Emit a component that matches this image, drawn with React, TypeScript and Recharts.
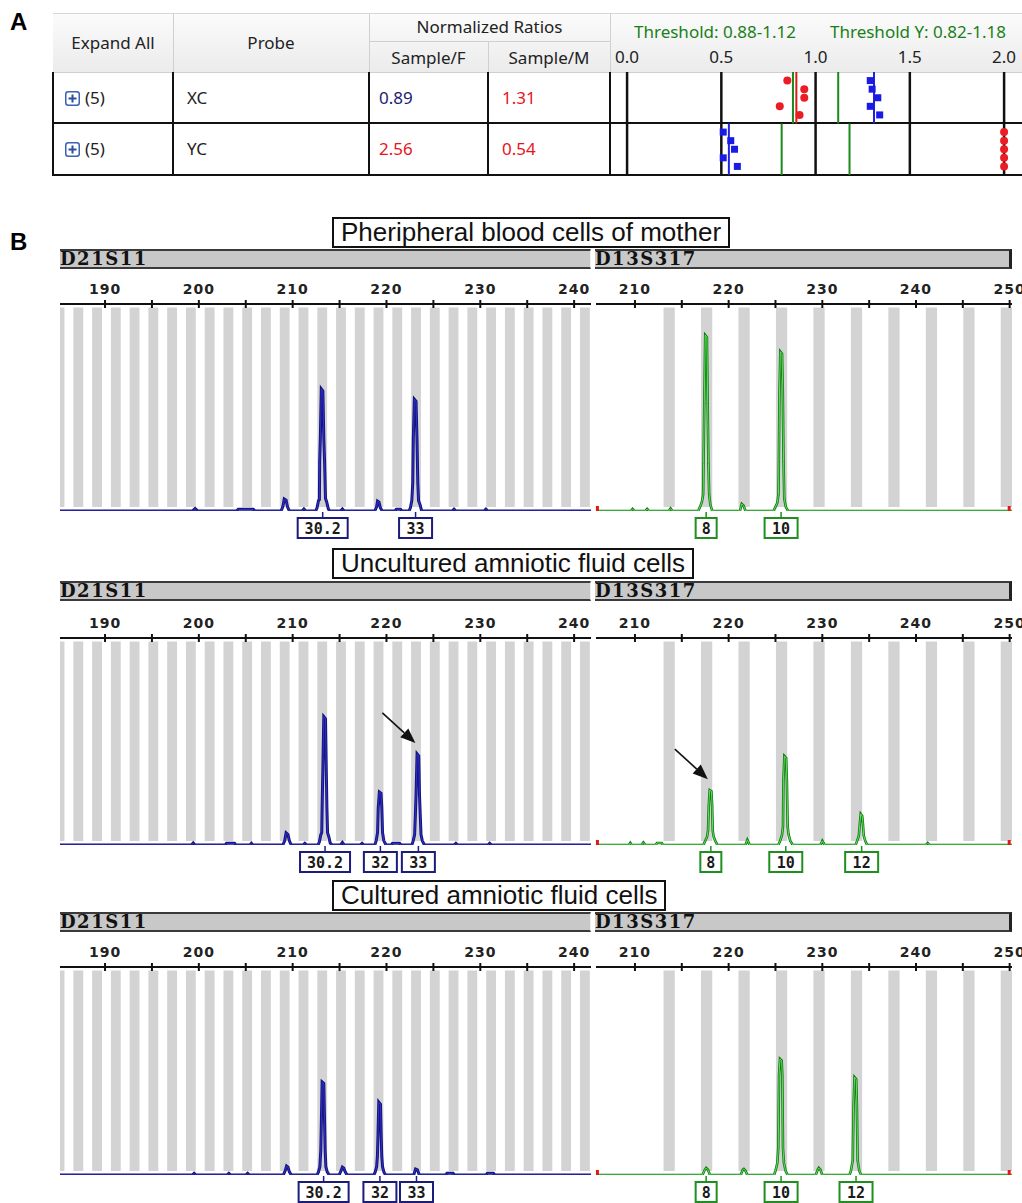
import React from 'react';
import {
  LineChart, Line, XAxis, YAxis, ReferenceArea, ReferenceLine, ReferenceDot,
  ScatterChart, Scatter,
} from 'recharts';

// ---------- panel A: normalized ratios table ----------
const probes = ['XC', 'YC'];
const replicateCounts = [5, 5];
const sampleF = [0.89, 2.56];
const sampleM = [1.31, 0.54];
const thresholdX = [0.88, 1.12];
const thresholdY = [0.82, 1.18];
const ratioTicks = [0, 0.5, 1, 1.5, 2];
// replicate ratios (Sample/F = red dots, Sample/M = blue squares)
const xcF = [0.85, 0.94, 0.94, 0.81, 0.915];
const xcM = [1.29, 1.3, 1.33, 1.29, 1.34];
const ycF = [2.0, 2.0, 2.0, 2.0, 2.0]; // off scale, pinned at 2.0
const ycM = [0.51, 0.55, 0.57, 0.51, 0.585];

// ---------- panel B: STR electropherograms ----------
const rowTitles = [
  'Pheripheral blood cells of mother',
  'Uncultured amniotic fluid cells',
  'Cultured amniotic fluid cells',
];
const d21Ticks = [190, 195, 200, 205, 210, 215, 220, 225, 230, 235, 240];
const d13Ticks = [210, 215, 220, 225, 230, 235, 240, 245, 250];
const d21Bins = [185.15, 187.15, 189.15, 191.15, 193.15, 195.15, 197.15, 199.15, 201.15, 203.15,
  205.15, 207.15, 209.15, 211.15, 213.15, 215.15, 217.15, 219.15, 221.15, 223.15, 225.15,
  227.15, 229.15, 231.15, 233.15, 235.15, 237.15, 239.15, 241.15];
const d13Bins = [213.65, 217.65, 221.65, 225.65, 229.65, 233.65, 237.65, 241.65, 245.65, 249.65];

// traces: [size (bp), height (% of panel)]
const d21Mother: [number, number][] = [
  [185.2, 0], [199.3, 0], [199.6, 1.2], [199.9, 0],
  [204.0, 0], [204.2, 0.8], [205.8, 0.8], [206.0, 0],
  [208.75, 0], [208.95, 2], [209.1, 5.8], [209.3, 5.2], [209.45, 2], [209.65, 0],
  [211.0, 0], [211.2, 1], [211.4, 0],
  [212.45, 0], [212.6, 1.5], [212.75, 5], [212.85, 5.5], [212.88, 24], [212.95, 35], [213.05, 59],
  [213.22, 58], [213.32, 35], [213.4, 24], [213.5, 6], [213.62, 4.5], [213.8, 1], [213.95, 0],
  [215.1, 0], [215.3, 1], [215.5, 0],
  [218.75, 0], [218.95, 2], [219.05, 4.8], [219.2, 4.3], [219.35, 1.5], [219.55, 0],
  [220.9, 0], [221.05, 0.8], [221.5, 0.8], [221.65, 0],
  [222.4, 0], [222.55, 1.5], [222.7, 5], [222.8, 13.5], [222.86, 35], [222.97, 54], [223.15, 53],
  [223.25, 35], [223.34, 13.5], [223.42, 5], [223.58, 3], [223.75, 0],
  [227.0, 0], [227.2, 0.9], [227.4, 0],
  [230.4, 0], [230.6, 0.9], [230.8, 0],
  [241.8, 0],
];
const d13Mother: [number, number][] = [
  [205.84, 0], [209.55, 0], [209.75, 1], [209.95, 0], [211.1, 0], [211.3, 1], [211.5, 0],
  [213.6, 0], [213.8, 1.2], [214.0, 0],
  [216.75, 0], [216.95, 2], [217.15, 4.5], [217.28, 8], [217.32, 23], [217.4, 52], [217.5, 85],
  [217.68, 84], [217.76, 52], [217.84, 23], [217.92, 8], [218.05, 3], [218.25, 0],
  [221.2, 0], [221.4, 3.4], [221.6, 2.5], [221.8, 0],
  [224.8, 0], [225.0, 2], [225.2, 4], [225.32, 8], [225.36, 24], [225.43, 58], [225.52, 77],
  [225.7, 76], [225.78, 58], [225.86, 24], [225.94, 6], [226.1, 2], [226.35, 0],
  [250.25, 0],
];
const d21Uncultured: [number, number][] = [
  [185.2, 0], [199.2, 0], [199.4, 1], [199.6, 0],
  [202.8, 0], [202.95, 0.8], [203.8, 0.8], [203.95, 0], [205.45, 0], [205.6, 0.8], [205.75, 0],
  [208.95, 0], [209.15, 2], [209.3, 5.8], [209.5, 5], [209.65, 2], [209.85, 0],
  [211.1, 0], [211.3, 0.8], [211.5, 0],
  [212.7, 0], [212.85, 1.5], [213.0, 5], [213.1, 6], [213.14, 18], [213.22, 37], [213.32, 62],
  [213.5, 61], [213.58, 37], [213.65, 18], [213.72, 6], [213.85, 4], [214.0, 1], [214.2, 0],
  [215.1, 0], [215.3, 1.2], [215.5, 0], [217.2, 0], [217.4, 0.8], [217.6, 0],
  [218.75, 0], [218.9, 2], [219.05, 6], [219.12, 18], [219.24, 25.6], [219.42, 25], [219.5, 18],
  [219.58, 6], [219.72, 2], [219.95, 0],
  [220.5, 0], [220.65, 0.8], [221.4, 0.8], [221.55, 0],
  [222.7, 0], [222.85, 2], [223.0, 5], [223.08, 14.5], [223.15, 24], [223.26, 44], [223.44, 43],
  [223.52, 24], [223.6, 14.5], [223.68, 5], [223.82, 2], [224.05, 0],
  [227.2, 0], [227.4, 0.8], [227.6, 0], [230.8, 0], [231.0, 0.8], [231.2, 0],
  [241.8, 0],
];
const d13Uncultured: [number, number][] = [
  [205.84, 0], [209.35, 0], [209.5, 1], [209.65, 0], [210.7, 0], [210.9, 1.2], [211.1, 0],
  [212.2, 0], [212.35, 1], [212.85, 1], [213.0, 0],
  [217.3, 0], [217.5, 2], [217.7, 4], [217.8, 7], [217.88, 19], [217.98, 26.5], [218.16, 26],
  [218.24, 19], [218.3, 7], [218.4, 4], [218.58, 2], [218.8, 0],
  [221.8, 0], [222.0, 2.5], [222.25, 0],
  [225.3, 0], [225.5, 2], [225.7, 5], [225.8, 9], [225.85, 31], [225.95, 43], [226.14, 42],
  [226.22, 31], [226.3, 9], [226.4, 5], [226.58, 2], [226.85, 0],
  [229.8, 0], [230.0, 2], [230.25, 0],
  [233.55, 0], [233.72, 2], [233.9, 4.5], [234.0, 10], [234.1, 15], [234.26, 14], [234.34, 10],
  [234.42, 4.5], [234.58, 2], [234.8, 0],
  [241.05, 0], [241.25, 1], [241.45, 0],
  [250.25, 0],
];
const d21Cultured: [number, number][] = [
  [185.2, 0], [199.3, 0], [199.5, 0.8], [199.7, 0], [203.0, 0], [203.2, 0.8], [203.4, 0],
  [205.0, 0], [205.2, 0.8], [205.4, 0],
  [209.0, 0], [209.2, 2], [209.35, 4.3], [209.5, 3.8], [209.65, 1.5], [209.85, 0],
  [212.6, 0], [212.75, 1.5], [212.9, 4], [213.0, 12], [213.06, 25.6], [213.14, 44.7], [213.32, 44],
  [213.4, 25.6], [213.46, 12], [213.54, 4], [213.68, 1.5], [213.9, 0],
  [214.95, 0], [215.15, 2], [215.3, 3.8], [215.45, 3.3], [215.6, 1.5], [215.8, 0],
  [218.65, 0], [218.8, 1.5], [218.95, 4], [219.03, 8.8], [219.1, 20], [219.18, 35], [219.36, 34],
  [219.43, 20], [219.5, 8.8], [219.58, 4], [219.72, 1.5], [219.9, 0],
  [222.9, 0], [223.1, 2.9], [223.3, 2.5], [223.5, 0],
  [226.3, 0], [226.45, 0.8], [227.1, 0.8], [227.25, 0],
  [230.6, 0], [230.75, 0.8], [231.4, 0.8], [231.55, 0],
  [241.8, 0],
];
const d13Cultured: [number, number][] = [
  [205.84, 0],
  [217.2, 0], [217.45, 2.5], [217.6, 3.4], [217.8, 2.5], [218.0, 0],
  [221.3, 0], [221.5, 2.5], [221.62, 2.9], [221.8, 2], [222.0, 0],
  [224.85, 0], [225.0, 2], [225.2, 5.8], [225.3, 13], [225.38, 48], [225.48, 55.8], [225.66, 55],
  [225.73, 48], [225.8, 13], [225.9, 5.8], [226.08, 2], [226.3, 0],
  [229.3, 0], [229.5, 2.5], [229.62, 3.4], [229.8, 2.5], [230.0, 0],
  [232.9, 0], [233.05, 2], [233.25, 7], [233.34, 33.6], [233.44, 47], [233.62, 46], [233.69, 33.6],
  [233.77, 7], [233.95, 2], [234.15, 0],
  [250.25, 0],
];

// allele calls (label, size)
const d21CallsMother = [{ label: '30.2', bp: 213.2 }, { label: '33', bp: 223.1 }];
const d13CallsMother = [{ label: '8', bp: 217.6 }, { label: '10', bp: 225.6 }];
const d21CallsUncultured = [{ label: '30.2', bp: 213.45 }, { label: '32', bp: 219.35 }, { label: '33', bp: 223.4 }];
const d13CallsUncultured = [{ label: '8', bp: 218.1 }, { label: '10', bp: 226.1 }, { label: '12', bp: 234.2 }];
const d21CallsCultured = [{ label: '30.2', bp: 213.3 }, { label: '32', bp: 219.3 }, { label: '33', bp: 223.2 }];
const d13CallsCultured = [{ label: '8', bp: 217.6 }, { label: '10', bp: 225.6 }, { label: '12', bp: 233.6 }];

// arrowed peaks (row 2)
const d21ArrowPeak = { bp: 223.4, h: 44 };
const d13ArrowPeak = { bp: 218.1, h: 26.5 };

const FONT_UI = '"Noto Sans", "Open Sans", sans-serif';
const FONT_ARIAL = '"Liberation Sans", Arial, sans-serif';

function BpTick(props: any) {
  const { x, y, payload } = props;
  const v = payload.value as number;
  return (
    <g>
      <line x1={x} x2={x} y1={y - 4} y2={y + 4} stroke="#111" strokeWidth={2} />
      {v % 10 === 0 && (
        <text x={x} y={y - 10} textAnchor="middle" fontFamily="DejaVu Sans" fontWeight="bold"
          fontSize={14} letterSpacing={1} fill="#222">{v}</text>
      )}
    </g>
  );
}

const boxWidths: Record<number, number> = { 1: 21, 2: 33, 3: 42, 4: 50 };

const alleleBox = (label: string, color: string) => (p: any) => {
  const { cx, cy } = p;
  const w = boxWidths[label.length] || 50;
  return (
    <g>
      <line x1={cx} x2={cx} y1={cy + 1} y2={cy + 7} stroke={color} strokeWidth={1.5} />
      <rect x={cx - w / 2} y={cy + 7} width={w} height={20} fill="#fff" stroke={color} strokeWidth={2} />
      <text x={cx} y={cy + 23} textAnchor="middle" fontFamily="DejaVu Sans Mono" fontWeight="bold"
        fontSize={15} fill="#1a1a1a">{label}</text>
    </g>
  );
};

const arrowShape = (p: any) => {
  const { cx, cy } = p;
  const tx = cx - 3, ty = cy - 11;
  const sx = cx - 36, sy = cy - 41;
  const ang = Math.atan2(ty - sy, tx - sx);
  const len = 15, half = 6;
  const bx = tx - len * Math.cos(ang), by = ty - len * Math.sin(ang);
  const px = -Math.sin(ang) * half, py = Math.cos(ang) * half;
  return (
    <g>
      <line x1={sx} y1={sy} x2={bx} y2={by} stroke="#111" strokeWidth={1.6} />
      <polygon points={`${tx},${ty} ${bx + px},${by + py} ${bx - px},${by - py}`} fill="#111" />
    </g>
  );
};

const endMark = (p: any) => <rect x={p.cx - 1.5} y={p.cy - 5} width={3} height={5} fill="#e01818" />;

interface PanelProps {
  left: number; width: number; axisY: number; baseY: number;
  domain: [number, number]; ticks: number[]; bins: number[]; binWidth: number;
  trace: [number, number][]; calls: { label: string; bp: number }[];
  arrow?: { bp: number; h: number };
  outer: string; inner: string; outerWidth: number; boxColor: string; redEnds?: boolean;
}

function StrPanel(props: PanelProps) {
  const { left, width, axisY, baseY, domain, ticks, bins, binWidth, trace, calls, arrow, outer, inner, outerWidth, boxColor, redEnds } = props;
  const pad = 18;
  const axisH = 34;
  const plotH = baseY - axisY;
  const data = trace.map(([bp, h]) => ({ bp, h }));
  return (
    <div style={{ position: 'absolute', left: left - pad, top: axisY - axisH }}>
      <LineChart width={width + 2 * pad} height={axisH + plotH + 36} data={data}
        margin={{ top: 0, right: pad, bottom: 36, left: pad }}>
        <XAxis dataKey="bp" type="number" orientation="top" domain={domain} ticks={ticks} interval={0}
          allowDataOverflow height={axisH} tickSize={0} tickMargin={0} tick={<BpTick />}
          axisLine={{ stroke: '#111', strokeWidth: 2 }} tickLine={false} />
        <YAxis type="number" domain={[0, 100]} hide allowDataOverflow />
        {bins.map((c) => (
          <ReferenceArea key={c} x1={Math.max(c - binWidth / 2, domain[0])} x2={Math.min(c + binWidth / 2, domain[1])}
            y1={1.9} y2={98.3} fill="#d3d3d3" fillOpacity={1} stroke="none" />
        ))}
        <Line dataKey="h" type="linear" stroke={outer} strokeWidth={outerWidth} dot={false} isAnimationActive={false} />
        <Line dataKey={(d: any) => d.h} type="linear" stroke={inner} strokeWidth={1} dot={false} isAnimationActive={false} />
        {redEnds && <ReferenceDot x={domain[0] + 0.15} y={0} shape={endMark} ifOverflow="visible" />}
        {redEnds && <ReferenceDot x={domain[1] - 0.3} y={0} shape={endMark} ifOverflow="visible" />}
        {calls.map((c) => (
          <ReferenceDot key={c.label} x={c.bp} y={0} shape={alleleBox(c.label, boxColor)} ifOverflow="visible" />
        ))}
        {arrow && <ReferenceDot x={arrow.bp} y={arrow.h} shape={arrowShape} ifOverflow="visible" />}
      </LineChart>
    </div>
  );
}

const rowLayout = [
  { titleTop: 217, barTop: 249, axisY: 304, baseY: 511 },
  { titleTop: 548, barTop: 581, axisY: 638, baseY: 845 },
  { titleTop: 880, barTop: 912, axisY: 967, baseY: 1175 },
];
const rowTraces = [
  [d21Mother, d13Mother],
  [d21Uncultured, d13Uncultured],
  [d21Cultured, d13Cultured],
];
const rowCalls = [
  [d21CallsMother, d13CallsMother],
  [d21CallsUncultured, d13CallsUncultured],
  [d21CallsCultured, d13CallsCultured],
];

const D21 = { left: 60, width: 531, domain: [185.2, 241.8] as [number, number] };
const D13 = { left: 596, width: 416, domain: [205.84, 250.25] as [number, number] };

function MarkerBar({ left, width, top, name, rightEdge }: { left: number; width: number; top: number; name: string; rightEdge?: boolean }) {
  return (
    <div style={{
      position: 'absolute', left, top, width, height: 16, background: '#c8c8c8',
      borderTop: '2px solid #3a3a3a', borderBottom: '2px solid #3a3a3a',
      borderRight: rightEdge ? '3px solid #222' : '1px solid #eee', boxSizing: 'content-box',
    }}>
      <span style={{
        position: 'absolute', left: 0, top: -2, fontFamily: '"DejaVu Serif", serif', fontWeight: 'bold',
        fontSize: 18, letterSpacing: 1.5, color: '#111', lineHeight: '20px',
      }}>{name}</span>
    </div>
  );
}

function PlusIcon() {
  return (
    <svg width={15} height={15} style={{ display: 'block' }}>
      <rect x={0.75} y={0.75} width={13.5} height={13.5} rx={2.5} fill="#fff" stroke="#3a62b0" strokeWidth={1.5} />
      <path d="M7.5 3.5v8M3.5 7.5h8" stroke="#2a4f9c" strokeWidth={2} />
    </svg>
  );
}

const colX = [53, 173, 369, 488, 610];
const headTop = 13, headMid = 41, headBottom = 72;
const rowBottoms = [123, 175];

function RatioPlot() {
  const pts = (vals: number[], rowTop: number) => vals.map((v, i) => ({ x: v, y: rowTop - (i + 1) / 6 }));
  const seg = (x: number, rowTop: number) => [{ x, y: rowTop }, { x, y: rowTop - 1 }] as any;
  const redDot = (p: any) => <circle cx={p.cx} cy={p.cy} r={4} fill="#ec1c24" />;
  const blueSq = (p: any) => <rect x={p.cx - 3.5} y={p.cy - 3.5} width={7} height={7} fill="#1a1ae6" />;
  return (
    <div style={{ position: 'absolute', left: 612, top: 40 }}>
      <ScatterChart width={410} height={135} margin={{ top: 0, right: 0, bottom: 0, left: 0 }}>
        <XAxis type="number" dataKey="x" orientation="top" height={32} domain={[-0.08, 2.095]} ticks={ratioTicks}
          interval={0} allowDataOverflow tickFormatter={(v: number) => v.toFixed(1)} axisLine={false} tickLine={false}
          tickSize={0} tickMargin={9} tick={{ fontSize: 17, fill: '#222', fontFamily: FONT_UI }} />
        <YAxis type="number" dataKey="y" domain={[0, 2]} hide allowDataOverflow />
        {ratioTicks.map((t) => <ReferenceLine key={t} x={t} stroke="#111" strokeWidth={2.5} />)}
        <ReferenceLine segment={seg(thresholdX[0], 2)} stroke="#1a8a1a" strokeWidth={2} />
        <ReferenceLine segment={seg(thresholdX[1], 2)} stroke="#1a8a1a" strokeWidth={2} />
        <ReferenceLine segment={seg(thresholdY[0], 1)} stroke="#1a8a1a" strokeWidth={2} />
        <ReferenceLine segment={seg(thresholdY[1], 1)} stroke="#1a8a1a" strokeWidth={2} />
        <ReferenceLine segment={seg(sampleF[0] + 0.008, 2)} stroke="#e01818" strokeWidth={2} />
        <ReferenceLine segment={seg(sampleM[0], 2)} stroke="#2020e0" strokeWidth={2} />
        <ReferenceLine segment={seg(sampleF[1], 1)} stroke="#e01818" strokeWidth={2} />
        <ReferenceLine segment={seg(sampleM[1], 1)} stroke="#2020e0" strokeWidth={2} />
        <Scatter data={pts(xcF, 2)} shape={redDot} isAnimationActive={false} />
        <Scatter data={pts(xcM, 2)} shape={blueSq} isAnimationActive={false} />
        <Scatter data={pts(ycF, 1)} shape={redDot} isAnimationActive={false} />
        <Scatter data={pts(ycM, 1)} shape={blueSq} isAnimationActive={false} />
      </ScatterChart>
    </div>
  );
}

const abs = (s: React.CSSProperties): React.CSSProperties => ({ position: 'absolute', ...s });

function PanelA() {
  const txt: React.CSSProperties = { fontFamily: FONT_UI, fontSize: 17, color: '#222', whiteSpace: 'nowrap' };
  const center = (l: number, r: number, y: number, text: string, extra: React.CSSProperties = {}) => (
    <div style={abs({ ...txt, left: l, width: r - l, top: y - 12, height: 24, lineHeight: '24px', textAlign: 'center', ...extra })}>{text}</div>
  );
  const rowMid = (i: number) => (i === 0 ? 98 : 149);
  return (
    <>
      <div style={abs({ left: 10, top: 8, fontFamily: FONT_ARIAL, fontWeight: 'bold', fontSize: 24 })}>A</div>
      <div style={abs({ left: colX[0], top: headTop, width: 1022 - colX[0], height: headBottom - headTop,
        background: 'linear-gradient(#fbfbfb, #ebebeb)', borderTop: '1px solid #d8d8d8' })} />
      {[colX[1], colX[2], colX[4]].map((x) => (
        <div key={x} style={abs({ left: x, top: headTop, width: 1, height: headBottom - headTop, background: '#d0d0d0' })} />
      ))}
      <div style={abs({ left: colX[3], top: headMid, width: 1, height: headBottom - headMid, background: '#d0d0d0' })} />
      <div style={abs({ left: colX[2], top: headMid, width: colX[4] - colX[2], height: 1, background: '#cfcfcf' })} />
      <div style={abs({ left: colX[0], top: headBottom, width: 1022 - colX[0], height: 1, background: '#cfcfcf' })} />
      {center(colX[0], colX[1], 43, 'Expand All')}
      {center(colX[1], colX[2], 43, 'Probe')}
      {center(colX[2], colX[4], 27, 'Normalized Ratios')}
      {center(colX[2], colX[3], 58, 'Sample/F')}
      {center(colX[3], colX[4], 58, 'Sample/M')}
      <div style={abs({ ...txt, left: 634, top: 20, color: '#1a7f1a', lineHeight: '24px' })}>Threshold: {thresholdX[0].toFixed(2)}-{thresholdX[1].toFixed(2)}</div>
      <div style={abs({ ...txt, left: 830, top: 20, color: '#1a7f1a', lineHeight: '24px' })}>Threshold Y: {thresholdY[0].toFixed(2)}-{thresholdY[1].toFixed(2)}</div>
      {/* body grid */}
      {colX.map((x) => (
        <div key={x} style={abs({ left: x - 1, top: headBottom, width: 2, height: rowBottoms[1] - headBottom + 1, background: '#111' })} />
      ))}
      {rowBottoms.map((y) => (
        <div key={y} style={abs({ left: colX[0] - 1, top: y - 1, width: 1022 - colX[0] + 1, height: 2, background: '#111' })} />
      ))}
      {probes.map((p, i) => (
        <React.Fragment key={p}>
          <div style={abs({ left: 65, top: rowMid(i) - 7 })}><PlusIcon /></div>
          <div style={abs({ ...txt, left: 85, top: rowMid(i) - 12, lineHeight: '24px' })}>({replicateCounts[i]})</div>
          <div style={abs({ ...txt, left: 187, top: rowMid(i) - 12, lineHeight: '24px' })}>{p}</div>
          <div style={abs({ ...txt, left: 379, top: rowMid(i) - 12, lineHeight: '24px',
            color: sampleF[i] >= thresholdX[0] && sampleF[i] <= thresholdX[1] ? '#1c1c6e' : '#e8141b' })}>{sampleF[i].toFixed(2)}</div>
          <div style={abs({ ...txt, left: 502, top: rowMid(i) - 12, lineHeight: '24px', color: '#e8141b' })}>{sampleM[i].toFixed(2)}</div>
        </React.Fragment>
      ))}
      <RatioPlot />
    </>
  );
}

function PanelB() {
  return (
    <>
      <div style={abs({ left: 10, top: 228, fontFamily: FONT_ARIAL, fontWeight: 'bold', fontSize: 24 })}>B</div>
      {rowLayout.map((r, i) => (
        <React.Fragment key={i}>
          <div style={abs({ left: 332, top: r.titleTop, border: '2px solid #111', background: '#fff',
            fontFamily: FONT_ARIAL, fontSize: 26, lineHeight: '27px', padding: '0 7px', color: '#111', whiteSpace: 'nowrap' })}>
            {rowTitles[i]}
          </div>
          <MarkerBar left={D21.left} width={D21.width - 1} top={r.barTop} name="D21S11" />
          <MarkerBar left={D13.left - 1} width={D13.width - 2} top={r.barTop} name="D13S317" rightEdge />
          <StrPanel left={D21.left} width={D21.width} axisY={r.axisY} baseY={r.baseY} domain={D21.domain}
            ticks={d21Ticks} bins={d21Bins} binWidth={1.05} trace={rowTraces[i][0]} calls={rowCalls[i][0]}
            arrow={i === 1 ? d21ArrowPeak : undefined} outer="#14147f" inner="#3030c8" outerWidth={3} boxColor="#1c1c7c" />
          <StrPanel left={D13.left} width={D13.width} axisY={r.axisY} baseY={r.baseY} domain={D13.domain}
            ticks={d13Ticks} bins={d13Bins} binWidth={1.2} trace={rowTraces[i][1]} calls={rowCalls[i][1]}
            arrow={i === 1 ? d13ArrowPeak : undefined} outer="#127a12" inner="#5fe05f" outerWidth={2.6} boxColor="#1f8f1f" redEnds />
        </React.Fragment>
      ))}
    </>
  );
}

export default function App() {
  return (
    <div style={{ position: 'absolute', left: 0, top: 0, width: 1022, height: 1203, background: '#fff', overflow: 'hidden' }}>
      <PanelA />
      <PanelB />
    </div>
  );
}
